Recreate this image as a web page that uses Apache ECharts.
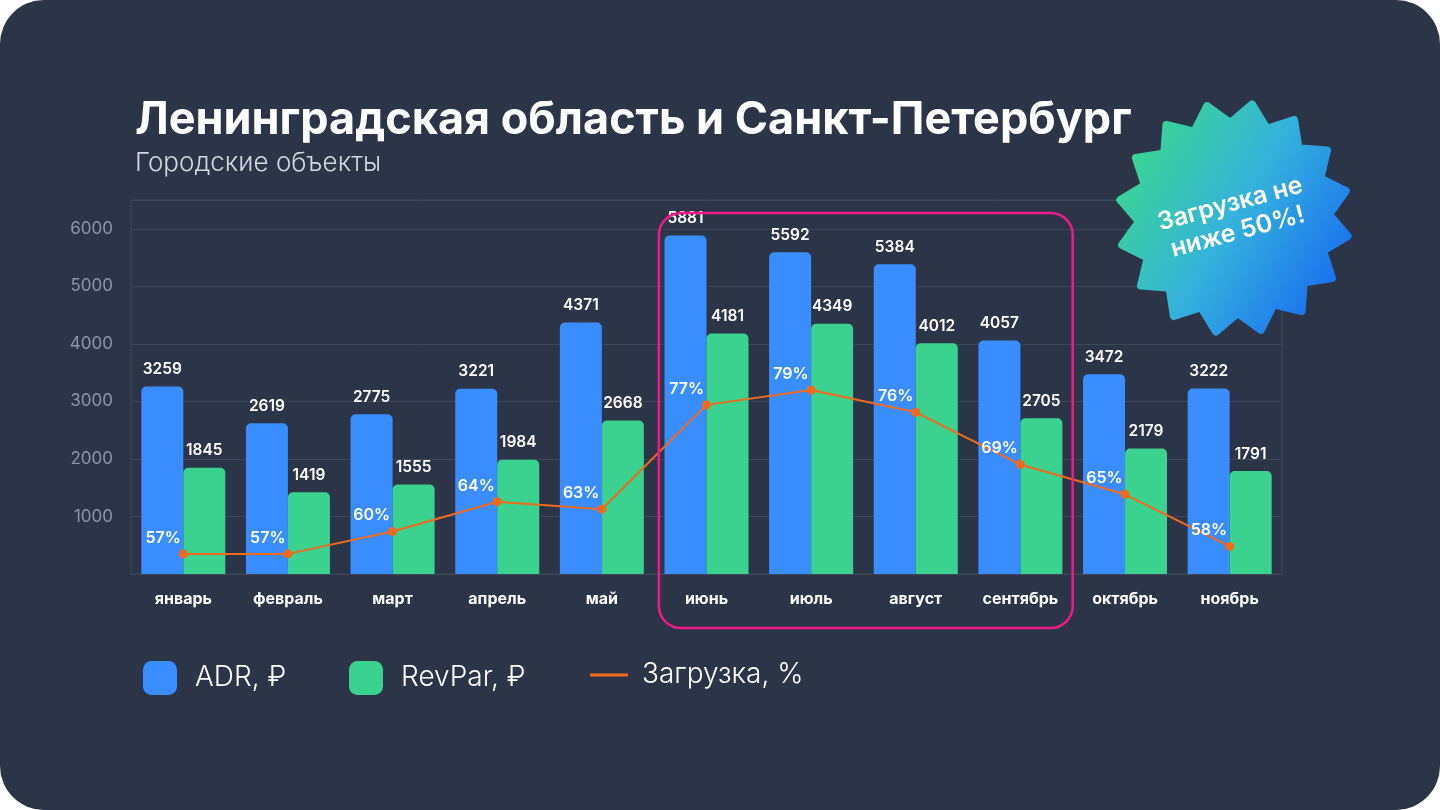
<!DOCTYPE html>
<html>
<head>
<meta charset="utf-8">
<script src="https://cdn.jsdelivr.net/npm/echarts@6/dist/echarts.min.js"></script>
<style>
  html, body { margin: 0; padding: 0; background: #ffffff; }
  #c { width: 1440px; height: 810px; border-radius: 44px; overflow: hidden; background: #2c3447; }
</style>
</head>
<body>
<div id="c"></div>
<script>
const months = ['январь','февраль','март','апрель','май','июнь','июль','август','сентябрь','октябрь','ноябрь'];
const adr = [3259, 2619, 2775, 3221, 4371, 5881, 5592, 5384, 4057, 3472, 3222];
const revpar = [1845, 1419, 1555, 1984, 2668, 4181, 4349, 4012, 2705, 2179, 1791];
const load = [57, 57, 60, 64, 63, 77, 79, 76, 69, 65, 58];
const highlightFrom = 'июнь';
const highlightTo = 'сентябрь';
const seriesNames = ['ADR, ₽', 'RevPar, ₽', 'Загрузка, %'];
const titleText = 'Ленинградская область и Санкт-Петербург';
const subtitleText = 'Городские объекты';
const badgeText = 'Загрузка не\nниже 50%!';

const FONT = 'Inter, "Noto Sans", sans-serif';
const BLUE = '#3a8dff', GREEN = '#3bd18f', ORANGE = '#f06a1e', GRID = '#3e4659';

const chart = echarts.init(document.getElementById('c'), null, { renderer: 'canvas' });

const legendBase = {
  orient: 'horizontal', top: 661, padding: 0, itemWidth: 34, itemHeight: 34,
  textStyle: { color: '#ffffff', fontSize: 28, fontWeight: 300, fontFamily: FONT, padding: [0, 0, 0, 13] },
  selectedMode: false
};

chart.setOption({
  backgroundColor: 'transparent',
  textStyle: { fontFamily: FONT },
  title: {
    text: titleText, subtext: subtitleText, left: 135, top: 95, itemGap: 3, padding: 0,
    textStyle: { color: '#ffffff', fontSize: 45, fontWeight: 700, fontFamily: FONT, lineHeight: 50 },
    subtextStyle: { color: '#d3d7df', fontSize: 26, fontWeight: 300, fontFamily: FONT, lineHeight: 30 }
  },
  legend: [
    Object.assign({}, legendBase, { left: 143, data: [{ name: seriesNames[0], icon: 'roundRect' }] }),
    Object.assign({}, legendBase, { left: 349, data: [{ name: seriesNames[1], icon: 'roundRect' }] }),
    Object.assign({}, legendBase, { left: 590, itemWidth: 38,
      textStyle: Object.assign({}, legendBase.textStyle, { padding: [0, 0, 0, 9] }),
      data: [{ name: seriesNames[2], icon: 'path://M0,0 L38,0 L38,3 L0,3 Z' }] })
  ],
  grid: { left: 131, right: 158, top: 200, bottom: 236, show: true, borderColor: GRID, borderWidth: 1, containLabel: false },
  xAxis: {
    type: 'category', data: months,
    axisLine: { show: false }, axisTick: { show: false },
    axisLabel: { color: '#ffffff', fontSize: 16, fontWeight: 700, margin: 17, fontFamily: FONT }
  },
  yAxis: [
    {
      type: 'value', min: 0, max: 6500, interval: 1000,
      axisLine: { show: false }, axisTick: { show: false },
      axisLabel: { color: '#8e95a4', fontSize: 17, fontWeight: 400, margin: 18, showMinLabel: false, showMaxLabel: false,
        fontFamily: FONT, padding: [0, 0, 6, 0], formatter: v => String(v) },
      splitLine: { lineStyle: { color: GRID, width: 1 } }
    },
    { type: 'value', min: 54.3, max: 104.5, show: false, splitLine: { show: false } }
  ],
  series: [
    {
      name: seriesNames[0], type: 'bar', data: adr, barWidth: 42, barGap: '0%',
      itemStyle: { color: BLUE, borderRadius: [5, 5, 0, 0] },
      label: { show: true, position: 'top', distance: 9, color: '#ffffff', fontSize: 15.5, fontWeight: 600, fontFamily: FONT }
    },
    {
      name: seriesNames[1], type: 'bar', data: revpar, barWidth: 42, barGap: '0%',
      itemStyle: { color: GREEN, borderRadius: [5, 5, 0, 0] },
      label: { show: true, position: 'top', distance: 9, color: '#ffffff', fontSize: 15.5, fontWeight: 600, fontFamily: FONT }
    },
    {
      name: seriesNames[2], type: 'line', yAxisIndex: 1, data: load, z: 5,
      symbol: 'circle', symbolSize: 9,
      itemStyle: { color: ORANGE }, lineStyle: { color: ORANGE, width: 2 },
      label: { show: true, position: 'left', distance: 0, offset: [2, -16], formatter: '{c}%', color: '#ffffff', fontSize: 16, fontWeight: 600, fontFamily: FONT }
    }
  ]
});

// Decorations derived from chart scales
const bandW = (1440 - 131 - 158) / months.length;
const xFrom = chart.convertToPixel({ xAxisIndex: 0 }, highlightFrom);
const xTo = chart.convertToPixel({ xAxisIndex: 0 }, highlightTo);
const rectLeft = xFrom - bandW * 0.455;
const rectRight = xTo + bandW * 0.5;

// starburst badge polygon
const cx = 1234, cy = 218, rOut = 115, rIn = 95, nTips = 16;
const pts = [];
for (let i = 0; i < nTips * 2; i++) {
  const a = (-81 + i * (180 / nTips)) * Math.PI / 180;
  const r = i % 2 === 0 ? rOut : rIn;
  pts.push([cx + r * Math.cos(a), cy + r * Math.sin(a)]);
}
const badgeGrad = new echarts.graphic.LinearGradient(0, 0.2, 1, 0.8, [
  { offset: 0, color: '#3cd98a' },
  { offset: 0.5, color: '#34b2dc' },
  { offset: 1, color: '#1868f2' }
]);

chart.setOption({
  graphic: [
    {
      type: 'rect', z: 10, silent: true,
      shape: { x: rectLeft, y: 213, width: rectRight - rectLeft, height: 628 - 213, r: 22 },
      style: { fill: 'none', stroke: '#ef1a8a', lineWidth: 2.5 }
    },
    {
      type: 'polygon', z: 20, silent: true,
      shape: { points: pts },
      style: { fill: badgeGrad, stroke: badgeGrad, lineWidth: 8, lineJoin: 'round' }
    },
    {
      type: 'text', z: 21, silent: true, x: cx, y: cy, rotation: 15 * Math.PI / 180,
      style: { text: badgeText, fill: '#ffffff', font: '600 25px ' + FONT, align: 'center', verticalAlign: 'middle', lineHeight: 29 }
    }
  ]
});
</script>
</body>
</html>
